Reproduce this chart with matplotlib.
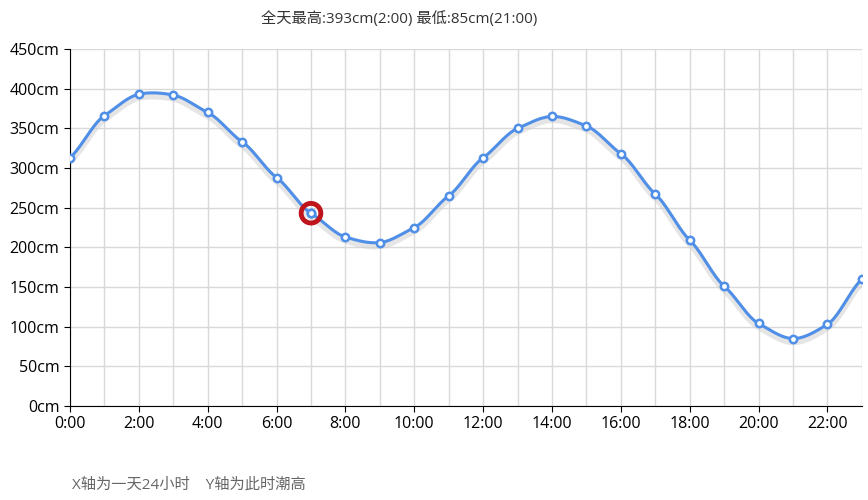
import matplotlib
matplotlib.use("Agg")
import matplotlib.pyplot as plt
import numpy as np

plt.rcParams['font.family'] = ['Open Sans', 'Noto Sans CJK SC', 'DejaVu Sans']

hours = list(range(24))
tide = [313, 366, 393, 392, 370, 333, 288, 243, 213, 206, 225, 265,
        313, 350, 365, 353, 318, 267, 209, 151, 104, 85, 103, 160]
xticks = list(range(0, 24, 2))
xlabels = [f"{h}:00" for h in xticks]
yticks = list(range(0, 451, 50))
ylabels = [f"{v}cm" for v in yticks]
title = "全天最高:393cm(2:00) 最低:85cm(21:00)"
note = "X轴为一天24小时    Y轴为此时潮高"
current = 7

def smooth(x, y, n=20, k=0.7):
    x = np.asarray(x, float); y = np.asarray(y, float)
    m = np.gradient(y, x) * k
    xs, ys = [], []
    for i in range(len(x) - 1):
        t = np.linspace(0, 1, n, endpoint=False)
        h = x[i+1] - x[i]
        h00 = 2*t**3 - 3*t**2 + 1; h10 = t**3 - 2*t**2 + t
        h01 = -2*t**3 + 3*t**2; h11 = t**3 - t**2
        xs.append(x[i] + t*h)
        ys.append(h00*y[i] + h10*h*m[i] + h01*y[i+1] + h11*h*m[i+1])
    xs.append([x[-1]]); ys.append([y[-1]])
    return np.concatenate(xs), np.concatenate(ys)

fig = plt.figure(figsize=(8.68, 5.0), dpi=100)
ax = fig.add_axes([0.0806, 0.188, 0.9124, 0.714])
sx, sy = smooth(hours, tide)
ax.plot(sx, sy - 4, color='#cccccc', lw=5, alpha=0.5, zorder=2)
ax.plot(sx, sy, color='#4f8fe8', lw=2.2, zorder=3)
ax.scatter(hours, tide, s=28, facecolor='white', edgecolor='#4f8fe8', lw=1.8, zorder=4)
ax.scatter([current], [tide[current]], s=200, facecolor='none', edgecolor='#c0141c', lw=3.5, zorder=5)
ax.scatter([current], [tide[current]], s=28, facecolor='white', edgecolor='#4f8fe8', lw=1.8, zorder=6)

ax.set_xlim(0, 23)
ax.set_ylim(0, 450)
ax.set_xticks(xticks, xlabels)
ax.set_xticks(hours, minor=True)
ax.set_yticks(yticks, ylabels)
ax.grid(True, which='both', axis='x', color='#d9d9d9', lw=1)
ax.grid(True, axis='y', color='#d9d9d9', lw=1)
ax.set_axisbelow(True)
ax.tick_params(axis='both', labelsize=11.5, colors='black', length=4)
ax.tick_params(axis='x', which='minor', length=0)
for s in ['top', 'right']:
    ax.spines[s].set_visible(False)
ax.spines['left'].set_color('black')
ax.spines['bottom'].set_color('black')

fig.text(0.46, 0.962, title, ha='center', va='center', fontsize=11, color='#333333')
fig.text(0.083, 0.03, note, ha='left', va='center', fontsize=11, color='#666666')
fig.savefig('out.png', dpi=100)
